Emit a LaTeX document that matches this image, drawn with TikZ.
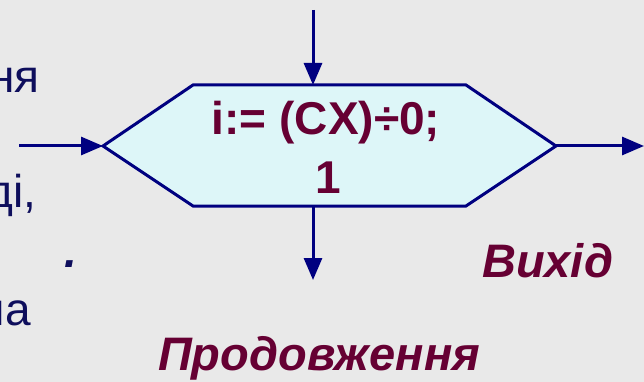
\documentclass[tikz,border=0pt]{standalone}
\usepackage{fontspec}
\setmainfont{Liberation Sans}
\usetikzlibrary{arrows.meta}
\definecolor{bgc}{HTML}{E9E9E9}
\definecolor{navyline}{HTML}{000080}
\definecolor{hexfill}{HTML}{DDF6F8}
\definecolor{maroon}{HTML}{660033}
\definecolor{lefttext}{HTML}{0E0E5C}
\tikzset{
  conn/.style={draw=navyline, line width=3pt, -{Triangle[length=22pt,width=18pt]}},
  hexbox/.style={draw=navyline, fill=hexfill, line width=3pt, line join=miter},
  hextext/.style={text=maroon, font=\fontsize{46}{50}\selectfont\bfseries, inner sep=0pt, anchor=base},
  label/.style={text=maroon, font=\fontsize{47}{50}\selectfont\bfseries\itshape, inner sep=0pt, anchor=base west},
  side/.style={text=lefttext, font=\fontsize{46}{50}\selectfont, inner sep=0pt, anchor=base east}
}
\begin{document}
\begin{tikzpicture}[x=1pt,y=-1pt]
\clip (0,0) rectangle (644,382);
\fill[bgc] (0,0) rectangle (644,382);
% hexagon vertices
\coordinate (hL) at (103,146);
\coordinate (hTL) at (193,85);
\coordinate (hTR) at (466,85);
\coordinate (hR) at (556,146);
\coordinate (hBR) at (466,206);
\coordinate (hBL) at (193,206);
\coordinate (hT) at (313,85);
\coordinate (hB) at (313,206);
\draw[hexbox] (hL) -- (hTL) -- (hTR) -- (hR) -- (hBR) -- (hBL) -- cycle;
\node[hextext] (t1) at (326,135) {i:= (CX)÷0;};
\node[hextext] (t2) at (328,193) {1};
% connector ends
\coordinate (inTop) at (313,10);
\coordinate (inLeft) at (19,146);
\coordinate (outRight) at (644,146);
\coordinate (outBottom) at (313,280);
\draw[conn] (inTop) -- (hT);
\draw[conn] (inLeft) -- (hL);
\draw[conn] (hR) -- (outRight);
\draw[conn] (hB) -- (outBottom);
% labels
\node[label] (exit) at (482,277) {Вихід};
\node[label] (cont) at (158,370) {Продовження};
% cut-off text at left
\node[side] (s1) at (40,93) {ня};
\node[side] (s2) at (37,207) {ді,};
\node[side, font=\fontsize{46}{50}\selectfont\bfseries\itshape] (s3) at (77,267) {.};
\node[side] (s4) at (31,325) {на};
\end{tikzpicture}
\end{document}
